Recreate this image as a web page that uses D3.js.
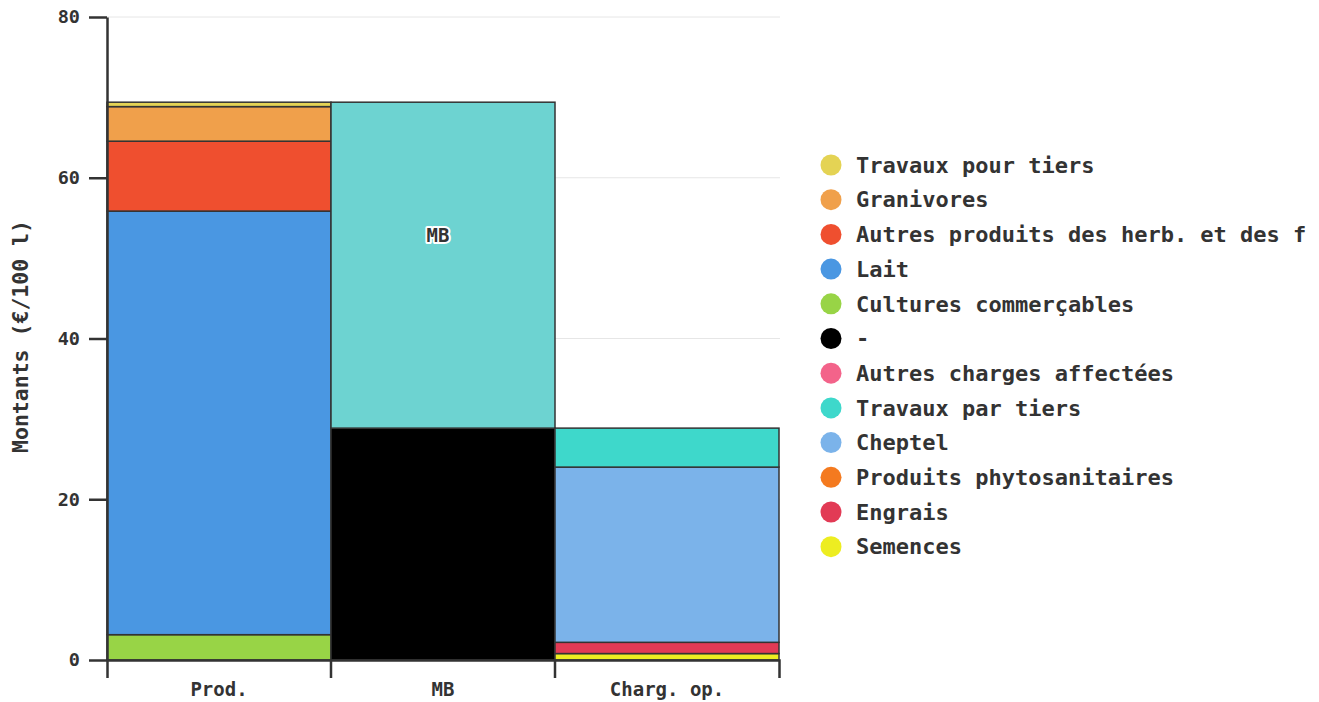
<!DOCTYPE html>
<html><head><meta charset="utf-8">
<script src="https://cdn.jsdelivr.net/npm/d3@7"></script>
<style>
body{margin:0;background:#fff;}
text{font-family:"DejaVu Sans Mono",monospace;font-weight:bold;fill:#333;}
</style></head>
<body>
<svg id="c" width="1319" height="702"></svg>
<script>
const categories = ["Prod.", "MB", "Charg. op."];
const seriesNames = ["Cultures commerçables","Lait","Autres produits des herb. et des f","Granivores","Travaux pour tiers","-","MB","Semences","Engrais","Produits phytosanitaires","Cheptel","Travaux par tiers","Autres charges affectées"];
const seriesColors = ["#98d446","#4a97e2","#ef4f2f","#f0a04b","#e4d354","#000000","#6dd3d1","#eded21","#e23a55","#f47a1f","#7bb3ea","#3ed8cb","#f3638a"];
// values per category [Prod., MB, Charg. op.]
const cultures = [3.15, 0, 0];
const lait = [52.7, 0, 0];
const autresProduits = [8.7, 0, 0];
const granivores = [4.3, 0, 0];
const travauxPourTiers = [0.55, 0, 0];
const chargesOp = [0, 28.85, 0];
const mb = [0, 40.55, 0];
const semences = [0, 0, 0.8];
const engrais = [0, 0, 1.4];
const phyto = [0, 0, 0];
const cheptel = [0, 0, 21.8];
const travauxParTiers = [0, 0, 4.85];
const autresCharges = [0, 0, 0];
const seriesValues = [cultures, lait, autresProduits, granivores, travauxPourTiers, chargesOp, mb, semences, engrais, phyto, cheptel, travauxParTiers, autresCharges];
const legendOrder = ["Travaux pour tiers","Granivores","Autres produits des herb. et des f","Lait","Cultures commerçables","-","Autres charges affectées","Travaux par tiers","Cheptel","Produits phytosanitaires","Engrais","Semences"];
const yTicks = [0, 20, 40, 60, 80];
const yLabel = "Montants (€/100 l)";

const svg = d3.select("#c");
const m = {left:107, top:17};
const W = 672, H = 643;
const g = svg.append("g").attr("transform", `translate(${m.left},${m.top})`);

const x = d3.scaleBand().domain(categories).range([0, W]).paddingInner(0).paddingOuter(0);
const y = d3.scaleLinear().domain([0, 80]).range([H, 0]);

// grid
g.append("g").selectAll("line").data(yTicks.filter(d=>d>0)).join("line")
  .attr("x1",0).attr("x2",W+1).attr("y1",d=>y(d)).attr("y2",d=>y(d))
  .attr("stroke","#e6e6e6").attr("stroke-width",1);

// stack
const table = categories.map((c,i)=>{const o={cat:c}; seriesNames.forEach((s,j)=>o[s]=seriesValues[j][i]); return o;});
const stacked = d3.stack().keys(seriesNames)(table);
const color = d3.scaleOrdinal().domain(seriesNames).range(seriesColors);

stacked.forEach(layer=>{
  g.append("g").selectAll("rect").data(layer.filter(d=>d[1]-d[0]>0)).join("rect")
    .attr("x", d=>x(d.data.cat))
    .attr("width", x.bandwidth())
    .attr("y", d=>y(d[1]))
    .attr("height", d=>y(d[0])-y(d[1]))
    .attr("fill", color(layer.key))
    .attr("stroke","#333").attr("stroke-width",1.5);
});

// MB label
const mbLayer = stacked.find(l=>l.key==="MB");
const mbSeg = mbLayer[categories.indexOf("MB")];
const lblVal = mbSeg[1] - (mbSeg[1]-mbSeg[0])*0.41;
g.append("text").attr("x", x("MB")+x.bandwidth()/2).attr("dx",-5).attr("y", y(lblVal)).attr("dy","0.35em")
  .attr("text-anchor","middle").style("font-size","19px")
  .attr("stroke","#fff").attr("stroke-width",4).attr("stroke-linejoin","round").style("paint-order","stroke")
  .text("MB");

// y axis
const ya = g.append("g").call(d3.axisLeft(y).tickValues(yTicks).tickSize(18).tickSizeOuter(0).tickPadding(9));
ya.select(".domain").attr("stroke","#333").attr("stroke-width",2.5);
ya.selectAll(".tick line").attr("stroke","#333").attr("stroke-width",2.5);
ya.selectAll(".tick text").style("font-size","18.5px").style("font-family","DejaVu Sans Mono").style("font-weight","bold").attr("fill","#333");

// x axis
const xa = g.append("g").attr("transform",`translate(0,${H})`)
  .call(d3.axisBottom(x).tickSize(0).tickSizeOuter(18).tickPadding(23));
xa.select(".domain").attr("stroke","#333").attr("stroke-width",2.5);
xa.selectAll(".tick text").style("font-size","19px").style("font-family","DejaVu Sans Mono").style("font-weight","bold").attr("fill","#333");
g.append("g").selectAll("line").data(categories.slice(1)).join("line")
  .attr("x1",d=>x(d)).attr("x2",d=>x(d)).attr("y1",H).attr("y2",H+18)
  .attr("stroke","#333").attr("stroke-width",2.5);

// y label
svg.append("text").attr("transform",`translate(28,${m.top+H/2-2}) rotate(-90)`)
  .attr("text-anchor","middle").style("font-size","21.5px").text(yLabel);

// legend
const lg = svg.append("g").attr("transform","translate(831,165)");
const items = lg.selectAll("g").data(legendOrder).join("g").attr("transform",(d,i)=>`translate(0,${i*34.7})`);
items.append("circle").attr("r",10.5).attr("fill",d=>color(d));
items.append("text").attr("x",25).attr("dy","0.35em").style("font-size","22px").text(d=>d);
</script>
</body></html>
